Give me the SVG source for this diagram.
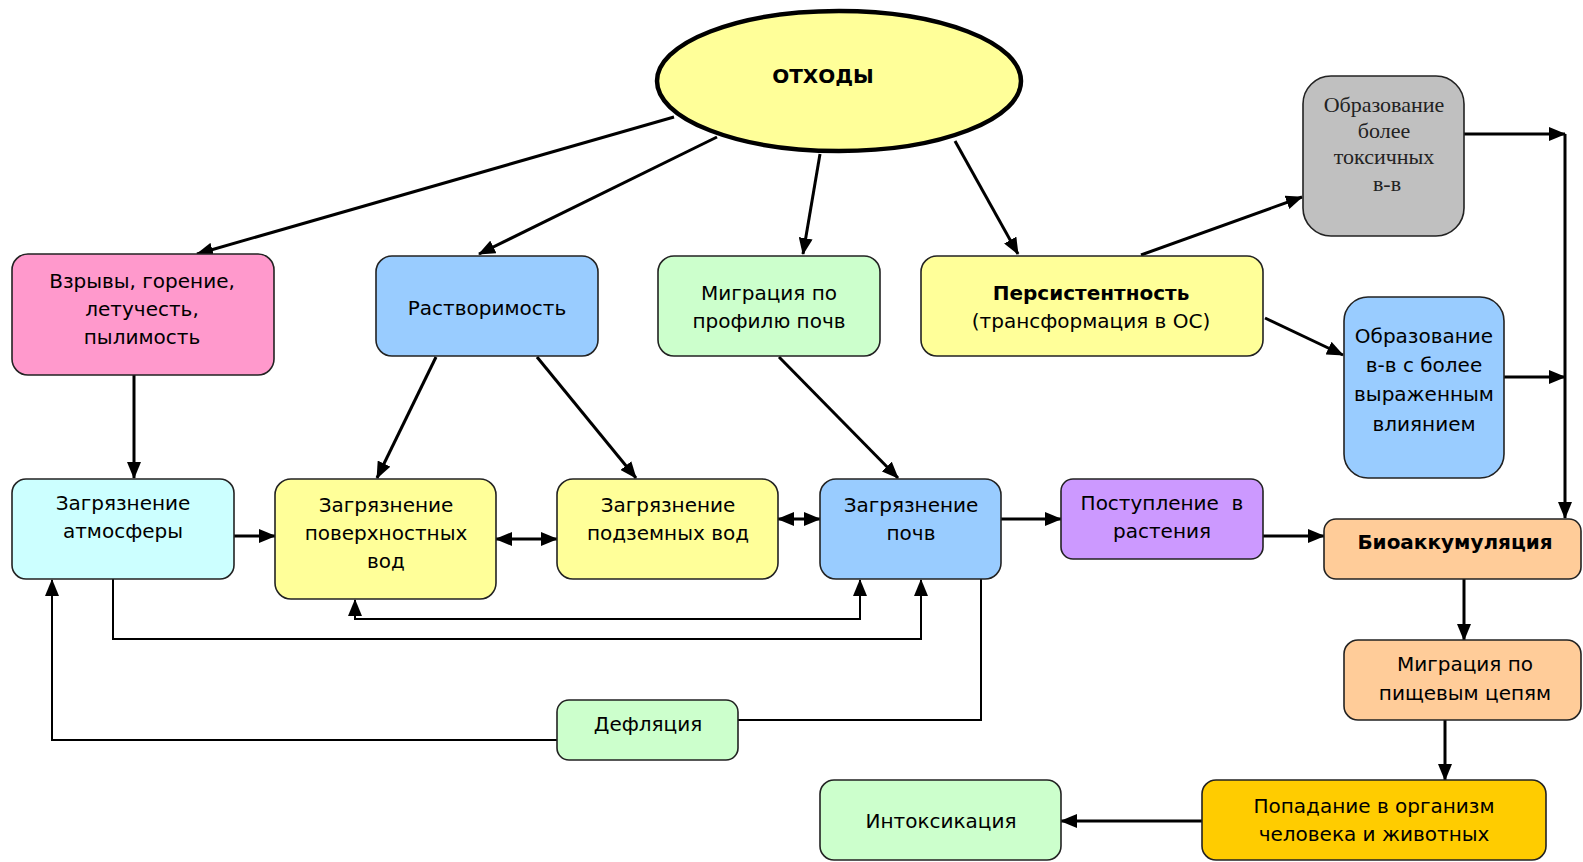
<svg xmlns="http://www.w3.org/2000/svg" width="1583" height="862" viewBox="0 0 1583 862">
<defs>
<marker id="ah" viewBox="0 0 17 14" refX="16" refY="7" markerWidth="17" markerHeight="14" markerUnits="userSpaceOnUse" orient="auto-start-reverse">
<path d="M0,0 L17,7 L0,14 Z" fill="#000"/>
</marker>
<style>
.b{stroke:#222;stroke-width:1.6}
.t{font-family:"DejaVu Sans",Verdana,sans-serif;font-size:20px;fill:#000;text-anchor:middle}
.bd{font-weight:bold}
.s{font-family:"Liberation Serif","Times New Roman",serif;font-size:22px;fill:#222;text-anchor:middle}
.c{fill:none;stroke:#000;stroke-width:3}
.th{fill:none;stroke:#000;stroke-width:2}
</style>
</defs>
<rect width="1583" height="862" fill="#fff"/>
<g id="connectors">
<line class="c" x1="674" y1="117" x2="197" y2="254" marker-end="url(#ah)"/>
<line class="c" x1="717" y1="137" x2="479" y2="254" marker-end="url(#ah)"/>
<line class="c" x1="820" y1="154" x2="803" y2="254" marker-end="url(#ah)"/>
<line class="c" x1="955" y1="141" x2="1018" y2="254" marker-end="url(#ah)"/>
<line class="c" x1="1141" y1="255" x2="1302" y2="197" marker-end="url(#ah)"/>
<line class="c" x1="1265" y1="318" x2="1343" y2="355" marker-end="url(#ah)"/>
<line class="c" x1="1464" y1="134" x2="1565" y2="134" marker-end="url(#ah)"/>
<line class="c" x1="1565" y1="134" x2="1565" y2="518" marker-end="url(#ah)"/>
<line class="c" x1="1504" y1="377" x2="1565" y2="377" marker-end="url(#ah)"/>
<line class="c" x1="134" y1="375" x2="134" y2="478" marker-end="url(#ah)"/>
<line class="c" x1="436" y1="357" x2="377" y2="478" marker-end="url(#ah)"/>
<line class="c" x1="537" y1="357" x2="636" y2="478" marker-end="url(#ah)"/>
<line class="c" x1="779" y1="357" x2="898" y2="478" marker-end="url(#ah)"/>
<line class="c" x1="234" y1="536" x2="275" y2="536" marker-end="url(#ah)"/>
<line class="c" x1="496" y1="539" x2="557" y2="539" marker-start="url(#ah)" marker-end="url(#ah)"/>
<line class="c" x1="778" y1="519" x2="820" y2="519" marker-start="url(#ah)" marker-end="url(#ah)"/>
<line class="c" x1="1001" y1="519" x2="1061" y2="519" marker-end="url(#ah)"/>
<line class="c" x1="1263" y1="536" x2="1324" y2="536" marker-end="url(#ah)"/>
<line class="c" x1="1464" y1="579" x2="1464" y2="640" marker-end="url(#ah)"/>
<line class="c" x1="1445" y1="720" x2="1445" y2="780" marker-end="url(#ah)"/>
<line class="c" x1="1202" y1="821" x2="1061" y2="821" marker-end="url(#ah)"/>
<polyline class="th" points="355,600 355,619 860,619 860,580" marker-start="url(#ah)" marker-end="url(#ah)"/>
<polyline class="th" points="113,579 113,639 921,639 921,580" marker-end="url(#ah)"/>
<polyline class="th" points="981,579 981,720 738,720"/>
<polyline class="th" points="557,740 52,740 52,580" marker-end="url(#ah)"/>
</g>
<g id="n-othody">
<ellipse cx="839" cy="81" rx="182" ry="70" fill="#FFFF99" stroke="#000" stroke-width="4.5"/>
<text class="t bd" x="823" y="83">ОТХОДЫ</text>
</g>
<g id="n-vzryvy">
<rect class="b" x="12" y="254" width="262" height="121" rx="16" fill="#FF99CC"/>
<text class="t" x="142" y="288">Взрывы, горение,</text>
<text class="t" x="142" y="316">летучесть,</text>
<text class="t" x="142" y="344">пылимость</text>
</g>
<g id="n-rastvorimost">
<rect class="b" x="376" y="256" width="222" height="100" rx="16" fill="#99CCFF"/>
<text class="t" x="487" y="315">Растворимость</text>
</g>
<g id="n-migr-profil">
<rect class="b" x="658" y="256" width="222" height="100" rx="16" fill="#CCFFCC"/>
<text class="t" x="769" y="300">Миграция по</text>
<text class="t" x="769" y="328">профилю почв</text>
</g>
<g id="n-persist">
<rect class="b" x="921" y="256" width="342" height="100" rx="16" fill="#FFFF99"/>
<text class="t bd" x="1091" y="300">Персистентность</text>
<text class="t" x="1091" y="328">(трансформация в ОС)</text>
</g>
<g id="n-toxic">
<rect class="b" x="1303" y="76" width="161" height="160" rx="28" fill="#C0C0C0"/>
<text class="s" x="1384" y="112">Образование</text>
<text class="s" x="1384" y="138">более</text>
<text class="s" x="1384" y="164">токсичных</text>
<text class="s" x="1387" y="191">в-в</text>
</g>
<g id="n-vyrazh">
<rect class="b" x="1344" y="297" width="160" height="181" rx="24" fill="#99CCFF"/>
<text class="t" x="1424" y="343">Образование</text>
<text class="t" x="1424" y="372">в-в с более</text>
<text class="t" x="1424" y="401">выраженным</text>
<text class="t" x="1424" y="431">влиянием</text>
</g>
<g id="n-atm">
<rect class="b" x="12" y="479" width="222" height="100" rx="14" fill="#CCFFFF"/>
<text class="t" x="123" y="510">Загрязнение</text>
<text class="t" x="123" y="538">атмосферы</text>
</g>
<g id="n-pov">
<rect class="b" x="275" y="479" width="221" height="120" rx="16" fill="#FFFF99"/>
<text class="t" x="386" y="512">Загрязнение</text>
<text class="t" x="386" y="540">поверхностных</text>
<text class="t" x="386" y="568">вод</text>
</g>
<g id="n-podz">
<rect class="b" x="557" y="479" width="221" height="100" rx="16" fill="#FFFF99"/>
<text class="t" x="668" y="512">Загрязнение</text>
<text class="t" x="668" y="540">подземных вод</text>
</g>
<g id="n-pochv">
<rect class="b" x="820" y="479" width="181" height="100" rx="16" fill="#99CCFF"/>
<text class="t" x="911" y="512">Загрязнение</text>
<text class="t" x="911" y="540">почв</text>
</g>
<g id="n-rast">
<rect class="b" x="1061" y="479" width="202" height="80" rx="12" fill="#CC99FF"/>
<text class="t" x="1162" y="510" style="white-space:pre">Поступление  в</text>
<text class="t" x="1162" y="538">растения</text>
</g>
<g id="n-bio">
<rect class="b" x="1324" y="519" width="257" height="60" rx="12" fill="#FFCC99"/>
<text class="t bd" x="1455" y="549">Биоаккумуляция</text>
</g>
<g id="n-food">
<rect class="b" x="1344" y="640" width="237" height="80" rx="14" fill="#FFCC99"/>
<text class="t" x="1465" y="671">Миграция по</text>
<text class="t" x="1465" y="700">пищевым цепям</text>
</g>
<g id="n-organism">
<rect class="b" x="1202" y="780" width="344" height="80" rx="14" fill="#FFCC00"/>
<text class="t" x="1374" y="813">Попадание в организм</text>
<text class="t" x="1374" y="841">человека и животных</text>
</g>
<g id="n-intox">
<rect class="b" x="820" y="780" width="241" height="80" rx="14" fill="#CCFFCC"/>
<text class="t" x="941" y="828">Интоксикация</text>
</g>
<g id="n-deflation">
<rect class="b" x="557" y="700" width="181" height="60" rx="12" fill="#CCFFCC"/>
<text class="t" x="648" y="731">Дефляция</text>
</g>
</svg>
